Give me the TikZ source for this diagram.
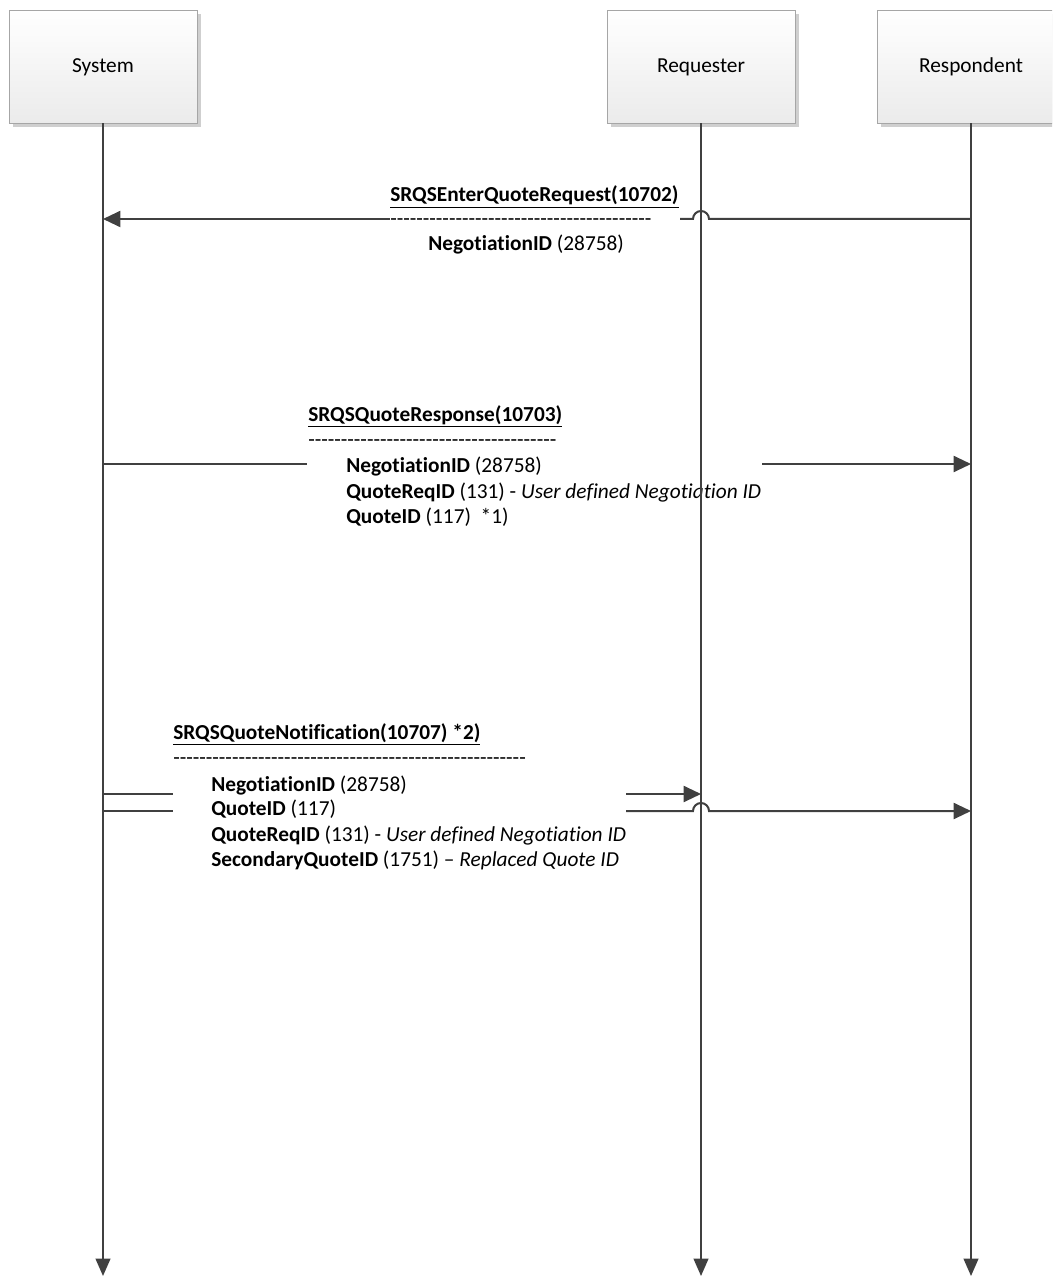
\documentclass[tikz,border=0pt]{standalone}
\usepackage{fontspec}
\setmainfont{Carlito}[Ligatures={NoCommon}]
\usetikzlibrary{arrows.meta,positioning,shadows}
\definecolor{LineGray}{HTML}{404040}
\definecolor{BoxEdge}{HTML}{A6A6A6}
\definecolor{BoxLow}{HTML}{EBEBEB}
\definecolor{ShadowGray}{HTML}{CFCFCF}
\newcommand{\dashrow}[1]{\foreach\k in {1,...,#1}{-}}
\tikzset{
  actor/.style={draw=BoxEdge,top color=white,bottom color=BoxLow,inner sep=0pt,
              minimum width=141pt,minimum height=84.75pt,font=\fontsize{16}{19}\selectfont,
              text height=1em,text depth=0.04em,
              drop shadow={shadow xshift=3pt,shadow yshift=-3pt,fill=ShadowGray,opacity=1}},
  life/.style={-{Triangle[length=13pt,width=11pt]},line width=1.5pt,draw=LineGray},
  msg/.style={-{Triangle[length=13pt,width=12pt]},line width=1.5pt,draw=LineGray},
  wire/.style={line width=1.5pt,draw=LineGray},
  txt/.style={anchor=base west,inner sep=0pt,font=\fontsize{16}{19}\selectfont}
}

\begin{document}
\begin{tikzpicture}[x=0.75pt,y=-0.75pt]
  \path[clip,use as bounding box] (0,0) rectangle (1052,1276);

  % actors
  \node[actor] (sys) at (103,66.5) {System};
  \node[actor] (req) at (701,66.5) {Requester};
  \node[actor] (resp) at (971,66.5) {Respondent};

  % message texts
  \node[txt] (m1title) at (390,202) {\underline{\textbf{SRQSEnterQuoteRequest(10702)}}};
  \node[txt] (m1dash) at (390,226) {\dashrow{40}};
  \node[txt] (m1neg) at (428,251) {\textbf{NegotiationID} (28758)};

  \node[txt] (m2title) at (308,421) {\underline{\textbf{SRQSQuoteResponse(10703)}}};
  \node[txt] (m2dash) at (308,446) {\dashrow{38}};
  \node[txt] (m2neg) at (346,472) {\textbf{NegotiationID} (28758)};
  \node[txt] (m2qreq) at (346,498) {\textbf{QuoteReqID} (131) - \textit{User defined Negotiation ID}};
  \node[txt] (m2qid) at (346,523) {\textbf{QuoteID} (117)\ \ *1)};

  \node[txt] (m3title) at (173,739) {\underline{\textbf{SRQSQuoteNotification(10707) *2)}}};
  \node[txt] (m3dash) at (173,764) {\dashrow{54}};
  \node[txt] (m3neg) at (211,791) {\textbf{NegotiationID} (28758)};
  \node[txt] (m3qid) at (211,815) {\textbf{QuoteID} (117)};
  \node[txt] (m3qreq) at (211,841) {\textbf{QuoteReqID} (131) - \textit{User defined Negotiation ID}};
  \node[txt] (m3sec) at (211,866) {\textbf{SecondaryQuoteID} (1751) -- \textit{Replaced Quote ID}};

  % lifelines
  \coordinate (bottom) at (0,1276);
  \draw[life] (sys.south) -- (sys.south |- bottom);
  \draw[life] (req.south) -- (req.south |- bottom);
  \draw[life] (resp.south) -- (resp.south |- bottom);

  % message 1
  \coordinate (y1) at (0,219);
  \coordinate (m1hop) at (709,219);
  \coordinate (m1gapR) at (680,219);
  \coordinate (m1gapL) at (390,219);
  \draw[wire] (resp.south |- y1) -- (m1hop) arc[start angle=0,end angle=-180,radius=8] -- (m1gapR);
  \draw[msg] (m1gapL) -- (sys.south |- y1);

  % message 2
  \coordinate (y2) at (0,464);
  \coordinate (m2gapL) at (307,464);
  \coordinate (m2gapR) at (762,464);
  \draw[wire] (sys.south |- y2) -- (m2gapL);
  \draw[msg] (m2gapR) -- (resp.south |- y2);

  % message 3
  \coordinate (y3a) at (0,794);
  \coordinate (y3b) at (0,811);
  \coordinate (m3gapLa) at (173,794);
  \coordinate (m3gapLb) at (173,811);
  \coordinate (m3gapRa) at (626,794);
  \coordinate (m3gapRb) at (626,811);
  \coordinate (m3hop) at (693,811);
  \draw[wire] (sys.south |- y3a) -- (m3gapLa);
  \draw[wire] (sys.south |- y3b) -- (m3gapLb);
  \draw[msg] (m3gapRa) -- (req.south |- y3a);
  \draw[msg] (m3gapRb) -- (m3hop) arc[start angle=180,end angle=360,radius=8] -- (resp.south |- y3b);
\end{tikzpicture}
\end{document}
